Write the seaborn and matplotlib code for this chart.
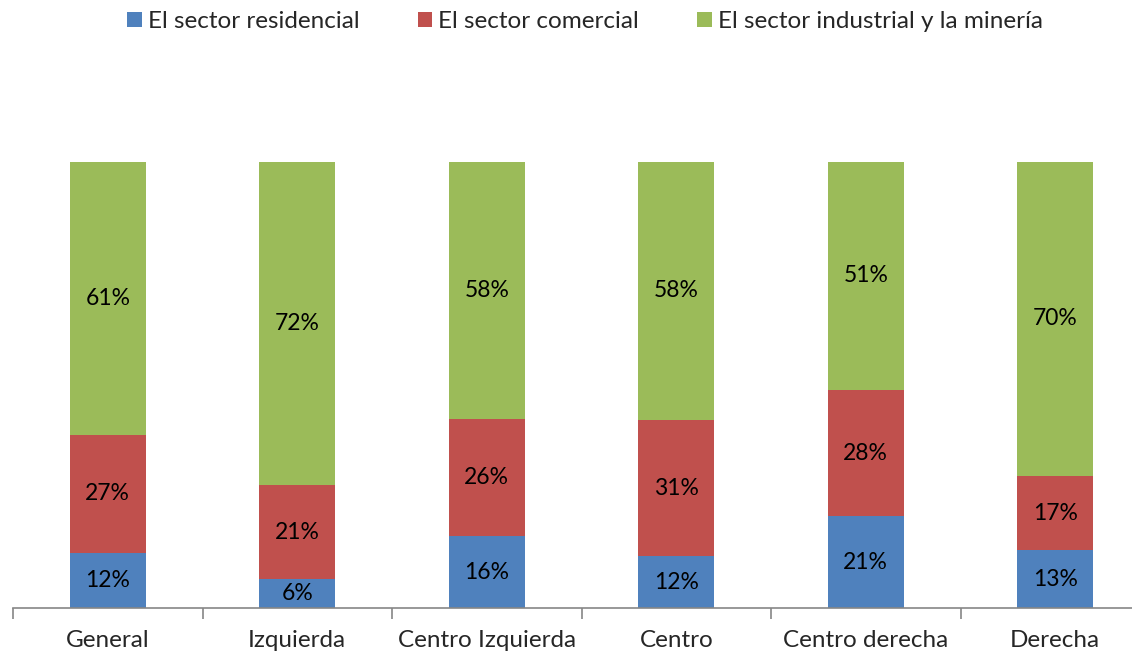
import matplotlib
matplotlib.use("Agg")
import matplotlib.pyplot as plt
import seaborn as sns
import pandas as pd
import numpy as np

categories = ["General", "Izquierda", "Centro Izquierda", "Centro", "Centro derecha", "Derecha"]
series_names = ["El sector residencial", "El sector comercial", "El sector industrial y la minería"]
residencial = [12.3, 6.4, 16.1, 11.6, 20.6, 12.9]
comercial = [26.6, 21.1, 26.2, 30.6, 28.3, 16.7]
industrial = [61.1, 72.4, 57.6, 57.8, 51.1, 70.4]
colors = ["#4F81BD", "#C0504D", "#9BBB59"]

sns.set_theme(style="white")
plt.rcParams["font.family"] = ["Lato", "DejaVu Sans"]

df = pd.DataFrame({"categoria": categories,
                   series_names[0]: residencial,
                   series_names[1]: comercial,
                   series_names[2]: industrial})

fig = plt.figure(figsize=(11.32, 6.55), dpi=100)
ax = fig.add_axes([13 / 1132, (655 - 608) / 655, 1137 / 1132, (608 - 70) / 655])

bottom = np.zeros(len(categories))
for name, col in zip(series_names, colors):
    vals = df[name].to_numpy()
    sns.barplot(x=df["categoria"], y=vals, bottom=bottom, color=col, width=0.4,
                ax=ax, saturation=1, label=name, linewidth=0, edgecolor=col)
    bottom = bottom + vals

# data labels
for i, c in enumerate(categories):
    b = 0.0
    for name in series_names:
        v = df.loc[i, name]
        ax.text(i, b + v / 2, f"{v:.0f}%", ha="center", va="center", fontsize=16.5, color="black")
        b += v

ax.set_xlim(-0.5, len(categories) - 0.5)
ax.set_ylim(0, 100 * (608 - 70) / (608 - 162))
ax.set_yticks([])
ax.set_ylabel("")
ax.set_xlabel("")
for s in ["top", "right", "left"]:
    ax.spines[s].set_visible(False)
ax.spines["bottom"].set_color("#868686")
ax.spines["bottom"].set_linewidth(1.2)

ax.set_xticks(np.arange(len(categories)))
ax.set_xticklabels(categories, fontsize=17.5)
ax.tick_params(axis="x", which="major", length=0, pad=16)
ax.set_xticks(np.arange(len(categories) + 1) - 0.5, minor=True)
ax.tick_params(axis="x", which="minor", bottom=True, length=8, width=1.2, color="#868686", direction="out")

leg = ax.legend(loc="upper center", bbox_to_anchor=(585 / 1132, 0.998), bbox_transform=fig.transFigure,
                ncol=3, frameon=False, fontsize=17.5, handlelength=0.6, handleheight=0.6,
                handletextpad=0.25, columnspacing=2.4, borderaxespad=0.0)

fig.savefig("out.png", dpi=100)
